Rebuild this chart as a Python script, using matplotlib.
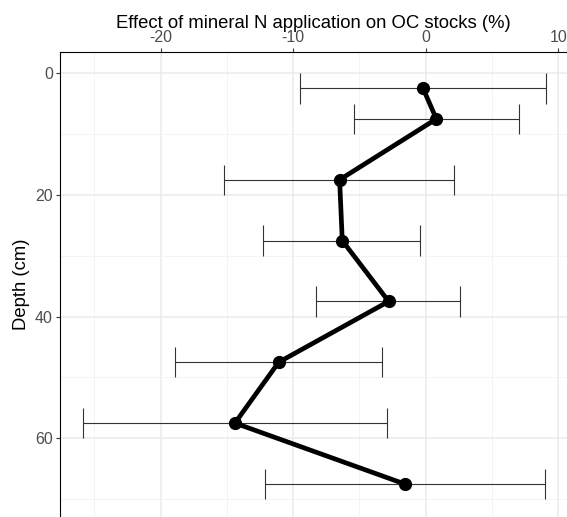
import numpy as np
import matplotlib.pyplot as plt
from matplotlib.ticker import MultipleLocator

plt.rcParams['font.family'] = ['Liberation Sans', 'DejaVu Sans']
plt.rcParams['axes.unicode_minus'] = False

# datos
depth = np.array([2.5, 7.5, 17.5, 27.5, 37.5, 47.5, 57.5, 67.5])
effect = np.array([-0.2, 0.8, -6.5, -6.3, -2.8, -11.1, -14.4, -1.6])
ci_low = np.array([-9.5, -5.4, -15.2, -12.3, -8.3, -18.9, -25.9, -12.1])
ci_high = np.array([9.1, 7.0, 2.1, -0.4, 2.6, -3.3, -2.9, 9.0])
cap_h = 5.0

fig = plt.figure(figsize=(5.67, 5.17), dpi=100)
ax = fig.add_axes([59.5 / 567, 0, 1 - 59.5 / 567, 1 - 52 / 517])

ax.hlines(depth, ci_low, ci_high, color='#333333', lw=0.8, zorder=2)
ax.vlines(ci_low, depth - cap_h / 2, depth + cap_h / 2, color='#333333', lw=0.8, zorder=2)
ax.vlines(ci_high, depth - cap_h / 2, depth + cap_h / 2, color='#333333', lw=0.8, zorder=2)
ax.plot(effect, depth, color='black', lw=3.4, marker='o', ms=8.5, zorder=3,
        solid_capstyle='round')

ax.set_xlim(-27.64, 10.66)
ax.set_ylim(72.94, -3.5)

ax.xaxis.set_major_locator(MultipleLocator(10))
ax.xaxis.set_minor_locator(MultipleLocator(5))
ax.yaxis.set_major_locator(MultipleLocator(20))
ax.yaxis.set_minor_locator(MultipleLocator(10))
ax.grid(which='major', color='#ebebeb', lw=1.1, zorder=0)
ax.grid(which='minor', color='#f2f2f2', lw=0.6, zorder=0)
ax.set_axisbelow(True)

ax.xaxis.tick_top()
ax.xaxis.set_label_position('top')
ax.tick_params(which='major', length=2.7, width=0.8, color='#333333',
               labelcolor='#4d4d4d', labelsize=11.5, pad=2)
ax.tick_params(which='minor', length=0)

for s in ['right', 'bottom']:
    ax.spines[s].set_visible(False)
for s in ['left', 'top']:
    ax.spines[s].set_color('black')
    ax.spines[s].set_linewidth(0.8)

ax.set_xlabel('Effect of mineral N application on OC stocks (%)', fontsize=13.3, labelpad=2)
ax.set_ylabel('Depth (cm)', fontsize=13.3, labelpad=4)

plt.savefig('out.png', dpi=100)
